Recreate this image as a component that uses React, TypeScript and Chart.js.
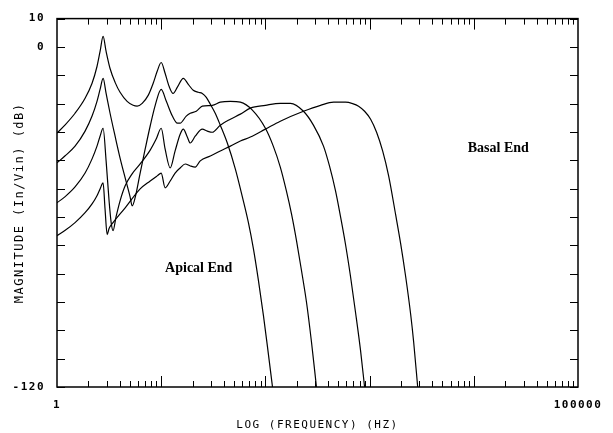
import React, { useEffect, useRef } from 'react';
import { Chart, registerables } from 'chart.js';

Chart.register(...registerables);

// [frequency (Hz), magnitude (dB)]
const CURVE_A: [number, number][] = [
  [1, -30.4], [1.19, -27.6], [1.49, -23.4], [1.86, -18.1], [2.17, -12.8], [2.42, -6.9], [2.59, -1.6],
  [2.77, 3.7], [2.96, -1.6], [3.23, -7.6], [3.61, -12.5], [4.03, -16.0], [4.71, -19.2], [5.38, -20.6],
  [5.88, -20.9], [6.57, -19.9], [7.5, -17.1], [8.38, -12.8], [9.15, -8.6], [10, -5.5], [10.9, -9.3],
  [11.9, -13.9], [13.0, -16.4], [14.3, -14.2], [16.3, -11.1], [18.2, -13.2], [20.3, -15.3], [22.7, -16.0],
  [24.8, -16.4], [27.1, -17.8], [29.6, -20.2], [33.0, -23.4], [36.9, -27.6], [43.1, -33.9], [51.5, -43.1],
  [60.1, -52.9], [68.7, -62.0], [76.7, -71.2], [85.7, -82.4], [95.7, -94.7], [104.5, -105.6], [117, -120],
];

const CURVE_B: [number, number][] = [
  [1, -40.9], [1.19, -38.5], [1.49, -35.0], [1.86, -29.7], [2.17, -24.4], [2.42, -19.2], [2.59, -15.0],
  [2.77, -11.1], [2.96, -16.4], [3.23, -23.4], [3.61, -31.5], [4.03, -39.2], [4.51, -46.2], [5.03, -52.9],
  [5.26, -56.1], [5.62, -53.2], [6.28, -44.5], [7.02, -36.0], [7.84, -27.9], [8.76, -20.6], [10, -15.0],
  [11.2, -19.2], [12.8, -24.4], [14.3, -26.9], [15.2, -26.9], [17.4, -24.4], [19.0, -23.4], [21.7, -22.7],
  [24.8, -20.9], [30.9, -20.6], [36.9, -19.5], [46.1, -19.2], [57.5, -19.5], [75.0, -22.3], [100, -28.7],
  [119, -35.0], [139, -42.4], [159, -50.8], [178, -58.9], [199, -68.4], [222, -78.9], [248, -90.1],
  [277, -104.2], [309, -120],
];

const CURVE_C: [number, number][] = [
  [1, -55.0], [1.19, -52.9], [1.49, -49.4], [1.86, -44.5], [2.17, -39.5], [2.42, -35.0], [2.59, -31.5],
  [2.77, -28.7], [2.96, -40.2], [3.16, -54.3], [3.31, -62.0], [3.45, -64.8], [3.69, -59.9], [4.03, -54.3],
  [4.51, -49.0], [5.26, -44.8], [6.28, -41.3], [7.84, -36.4], [8.95, -32.5], [10, -28.7], [10.9, -36.0],
  [12.2, -42.7], [13.6, -36.7], [15.2, -30.8], [16.3, -29.0], [17.8, -31.8], [19.0, -33.9], [21.2, -31.5],
  [24.8, -29.0], [27.7, -29.7], [30.9, -30.1], [36.9, -27.6], [46.1, -25.5], [57.5, -23.7], [71.7, -21.6],
  [100, -20.6], [139, -19.9], [174, -19.9], [232, -22.7], [289, -27.6], [361, -35.0], [412, -42.0],
  [471, -50.8], [526, -59.9], [588, -69.8], [656, -81.0], [733, -93.7], [818, -107.0], [895, -120],
];

const CURVE_D: [number, number][] = [
  [1, -66.6], [1.19, -64.8], [1.49, -62.0], [1.86, -58.5], [2.17, -55.4], [2.42, -52.5], [2.59, -50.1],
  [2.77, -48.0], [2.89, -57.1], [3.03, -66.2], [3.16, -64.1], [3.45, -62.0], [4.51, -56.8], [6.28, -50.1],
  [7.84, -47.3], [9.15, -45.5], [10, -44.5], [10.9, -49.7], [12.2, -47.3], [13.6, -44.5], [15.2, -42.7],
  [17.0, -41.3], [19.0, -42.0], [21.2, -42.4], [23.7, -40.2], [29.6, -38.5], [36.9, -36.7], [46.1, -35.0],
  [57.5, -33.2], [71.7, -31.8], [100, -29.0], [139, -26.2], [232, -22.7], [338, -20.6], [451, -19.5],
  [588, -19.5], [687, -20.0], [784, -20.9], [895, -22.7], [1023, -25.5], [1167, -30.1], [1334, -36.7],
  [1523, -45.5], [1778, -59.2], [1986, -69.4], [2218, -81.0], [2479, -94.4], [2649, -104.2], [2894, -120],
];

const SERIES_NAMES = ['Position 1 (apical)', 'Position 2', 'Position 3', 'Position 4 (basal)'];

const Y_TICKS = [10, 0, -10, -20, -30, -40, -50, -60, -70, -80, -90, -100, -110, -120];
const Y_TICK_LABELS = [10, 0, -120];
const X_TICK_LABELS = [1, 100000];
const X_DECADES = [1, 10, 100, 1000, 10000];

const X_TITLE = 'LOG (FREQUENCY) (HZ)';
const Y_TITLE = 'MAGNITUDE (In/Vin) (dB)';

const ANNOTATIONS = [
  { text: 'Apical End', freq: 10.9, db: -78.2 },
  { text: 'Basal End', freq: 8750, db: -35.7 },
];

const MONO = '"DejaVu Sans Mono", monospace';

export default function App() {
  const ref = useRef<HTMLCanvasElement>(null);

  useEffect(() => {
    if (!ref.current) return;
    const datasets = [CURVE_A, CURVE_B, CURVE_C, CURVE_D].map((c, i) => ({
      label: SERIES_NAMES[i],
      data: c.map(([x, y]) => ({ x, y })),
      borderColor: '#000',
      borderWidth: 1.2,
      pointRadius: 0,
      cubicInterpolationMode: 'monotone',
      fill: false,
    }));

    const framePlugin = {
      id: 'frame',
      beforeDraw(chart: any) {
        (chart.ctx as any).letterSpacing = '1.5px';
      },
      afterDraw(chart: any) {
        const { ctx, chartArea, scales } = chart;
        const { left, right, top, bottom } = chartArea;
        const xs = scales.x;
        const ys = scales.y;
        ctx.save();
        ctx.strokeStyle = '#000';
        ctx.lineWidth = 1;
        const line = (x1: number, y1: number, x2: number, y2: number) => {
          ctx.beginPath();
          ctx.moveTo(x1, y1);
          ctx.lineTo(x2, y2);
          ctx.stroke();
        };
        for (const v of Y_TICKS) {
          const py = Math.round(ys.getPixelForValue(v)) + 0.5;
          line(left, py, left + 8, py);
          line(right - 8, py, right, py);
        }
        for (const d of X_DECADES) {
          for (let m = 1; m <= 9; m++) {
            const val = m * d;
            if (val <= 1) continue;
            const px = Math.round(xs.getPixelForValue(val)) + 0.5;
            const len = m === 1 ? 11 : 6;
            line(px, top, px, top + len);
            line(px, bottom - len, px, bottom);
          }
        }
        ctx.lineWidth = 1.5;
        ctx.strokeRect(left, top, right - left, bottom - top);

        (ctx as any).letterSpacing = '0px';
        ctx.font = 'bold 14px "Liberation Serif", serif';
        ctx.fillStyle = '#000';
        ctx.textAlign = 'left';
        ctx.textBaseline = 'middle';
        for (const a of ANNOTATIONS) {
          ctx.fillText(a.text, xs.getPixelForValue(a.freq), ys.getPixelForValue(a.db));
        }
        ctx.restore();
      },
    };

    const chart = new Chart(ref.current, {
      type: 'line',
      data: { datasets },
      plugins: [framePlugin],
      options: {
        animation: false,
        responsive: false,
        parsing: false as any,
        layout: { padding: { top: 17, right: 35, left: 0, bottom: 0 } },
        plugins: { legend: { display: false }, tooltip: { enabled: false } },
        scales: {
          x: {
            type: 'logarithmic',
            min: 1,
            max: 100000,
            grid: { display: false, drawTicks: false },
            border: { display: false },
            afterBuildTicks: (s: any) => {
              s.ticks = X_TICK_LABELS.map((v) => ({ value: v }));
            },
            afterFit: (s: any) => {
              s.height = 46;
            },
            ticks: {
              autoSkip: false,
              maxRotation: 0,
              padding: 12,
              color: '#000',
              font: { family: MONO, size: 11, weight: 'bold' },
              callback: (v: any) => String(v),
            },
            title: {
              display: true,
              text: X_TITLE,
              color: '#000',
              font: { family: MONO, size: 11 },
              padding: { top: 0, bottom: 1.5 },
            },
          },
          y: {
            type: 'linear',
            min: -120,
            max: 10,
            grid: { display: false, drawTicks: false },
            border: { display: false },
            afterBuildTicks: (s: any) => {
              s.ticks = Y_TICK_LABELS.map((v) => ({ value: v }));
            },
            afterFit: (s: any) => {
              s.width = 57;
            },
            ticks: {
              autoSkip: false,
              padding: 12,
              color: '#000',
              font: { family: MONO, size: 11, weight: 'bold' },
              callback: (v: any) => String(v),
            },
            title: {
              display: true,
              text: Y_TITLE,
              color: '#000',
              font: { family: MONO, size: 12 },
              padding: { top: 13, bottom: 0 },
            },
          },
        },
      } as any,
    });
    return () => chart.destroy();
  }, []);

  return (
    <div style={{ position: 'absolute', left: 0, top: 0, width: 613, height: 433, background: '#fff' }}>
      <canvas ref={ref} width={613} height={433} style={{ display: 'block' }} />
    </div>
  );
}
